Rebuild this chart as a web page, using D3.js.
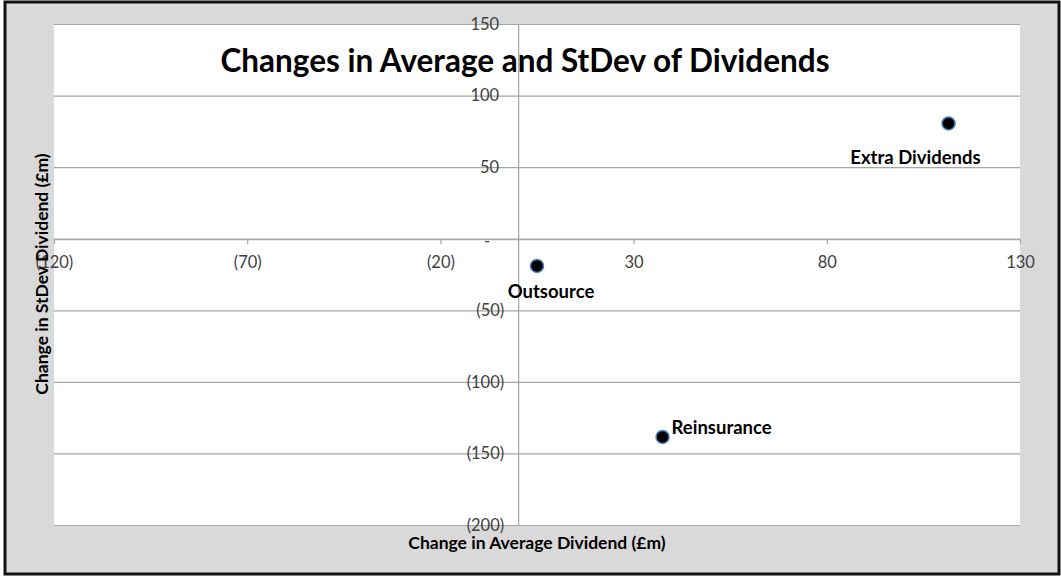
<!DOCTYPE html>
<html>
<head>
<meta charset="utf-8">
<script src="https://cdn.jsdelivr.net/npm/d3@7"></script>
<style>
  html, body { margin: 0; padding: 0; background: #fff; }
  svg { display: block; }
</style>
</head>
<body>
<div id="chart"></div>
<script>
'use strict';

const labels = ['Extra Dividends', 'Outsource', 'Reinsurance'];
const avgChange = [111.5, 5, 37.5];
const stdevChange = [80.5, -19, -138.5];

const xTicks = [-120, -70, -20, 30, 80, 130];
const yTicks = [-200, -150, -100, -50, 0, 50, 100, 150];

const points = labels.map((label, i) => ({ label, x: avgChange[i], y: stdevChange[i] }));

function accounting(d) {
    if (d === 0) return '-';
    return d < 0 ? `(${-d})` : `${d}`;
}

function buildChart() {
    const width = 1061;
    const height = 576;

    const plotLeft = 54;
    const plotRight = 1020;
    const plotTop = 24;
    const plotBottom = 525;

    const font = 'Lato, "Open Sans", sans-serif';

    const svg = d3.select('#chart')
        .append('svg')
            .attr('width', width)
            .attr('height', height);

    // background and frame
    svg.append('rect')
        .attr('x', 5).attr('y', 2)
        .attr('width', 1054).attr('height', 572)
        .attr('fill', '#d9d9d9')
        .attr('stroke', '#111')
        .attr('stroke-width', 3);

    svg.append('rect')
        .attr('x', plotLeft).attr('y', plotTop)
        .attr('width', plotRight - plotLeft).attr('height', plotBottom - plotTop)
        .attr('fill', '#fff');

    const x = d3.scaleLinear()
        .domain([-120, 130])
        .range([plotLeft, plotRight]);

    const y = d3.scaleLinear()
        .domain([-200, 150])
        .range([plotBottom, plotTop]);

    // horizontal gridlines
    svg.append('g')
        .selectAll('line')
        .data(yTicks)
        .enter()
        .append('line')
            .attr('x1', plotLeft)
            .attr('x2', plotRight)
            .attr('y1', d => y(d) + 0.5)
            .attr('y2', d => y(d) + 0.5)
            .attr('stroke', '#a6a6a6')
            .attr('stroke-width', 1.2);

    // y axis, sits at x = 0
    const yAxis = d3.axisLeft(y)
        .tickValues(yTicks)
        .tickSize(0)
        .tickPadding(14)
        .tickFormat(accounting);

    const yAxisG = svg.append('g')
        .attr('transform', `translate(${x(0) + 0.5},0)`)
        .call(yAxis);

    yAxisG.select('.domain')
        .attr('stroke', '#a6a6a6')
        .attr('stroke-width', 1.2);

    yAxisG.selectAll('text')
        .attr('font-family', font)
        .attr('font-size', 16.5)
        .attr('fill', '#404040')
        .attr('dx', d => d > 0 ? -5 : (d === 0 ? -14 : 0))
        .attr('dy', d => d === 0 ? '0.45em' : '0.32em');

    // x axis, sits at y = 0
    const xAxis = d3.axisBottom(x)
        .tickValues(xTicks)
        .tickSizeInner(5)
        .tickSizeOuter(0)
        .tickPadding(12)
        .tickFormat(accounting);

    const xAxisG = svg.append('g')
        .attr('transform', `translate(0,${y(0) + 0.5})`)
        .call(xAxis);

    xAxisG.select('.domain')
        .attr('stroke', '#a6a6a6')
        .attr('stroke-width', 1.2);

    xAxisG.selectAll('.tick line')
        .attr('stroke', '#a6a6a6')
        .attr('stroke-width', 1.2);

    xAxisG.selectAll('text')
        .attr('font-family', font)
        .attr('font-size', 16.5)
        .attr('fill', '#404040');

    // title
    svg.append('text')
        .attr('x', 525)
        .attr('y', 72)
        .attr('text-anchor', 'middle')
        .attr('font-family', font)
        .attr('font-weight', 'bold')
        .attr('font-size', 31.5)
        .attr('fill', '#000')
        .text('Changes in Average and StDev of Dividends');

    // points
    svg.append('g')
        .selectAll('circle')
        .data(points)
        .enter()
        .append('circle')
            .attr('cx', d => x(d.x))
            .attr('cy', d => y(d.y))
            .attr('r', 6.5)
            .attr('fill', '#000')
            .attr('stroke', '#4f81bd')
            .attr('stroke-width', 1.5);

    // point labels
    const labelPlacement = {
        'Extra Dividends': { dx: -33, dy: 41, anchor: 'middle' },
        'Outsource': { dx: 14, dy: 32, anchor: 'middle' },
        'Reinsurance': { dx: 9, dy: -3, anchor: 'start' }
    };

    svg.append('g')
        .selectAll('text')
        .data(points)
        .enter()
        .append('text')
            .attr('x', d => x(d.x) + labelPlacement[d.label].dx)
            .attr('y', d => y(d.y) + labelPlacement[d.label].dy)
            .attr('text-anchor', d => labelPlacement[d.label].anchor)
            .attr('font-family', font)
            .attr('font-weight', 'bold')
            .attr('font-size', 18.5)
            .attr('fill', '#000')
            .text(d => d.label);

    // axis titles
    svg.append('text')
        .attr('x', 537)
        .attr('y', 549)
        .attr('text-anchor', 'middle')
        .attr('font-family', font)
        .attr('font-weight', 'bold')
        .attr('font-size', 17.5)
        .attr('fill', '#000')
        .text('Change in Average Dividend (£m)');

    svg.append('text')
        .attr('transform', 'translate(48,274) rotate(-90)')
        .attr('text-anchor', 'middle')
        .attr('font-family', font)
        .attr('font-weight', 'bold')
        .attr('font-size', 17.5)
        .attr('fill', '#000')
        .text('Change in StDev Dividend (£m)');
}

window.addEventListener('DOMContentLoaded', () => {
    buildChart();
});
</script>
</body>
</html>
